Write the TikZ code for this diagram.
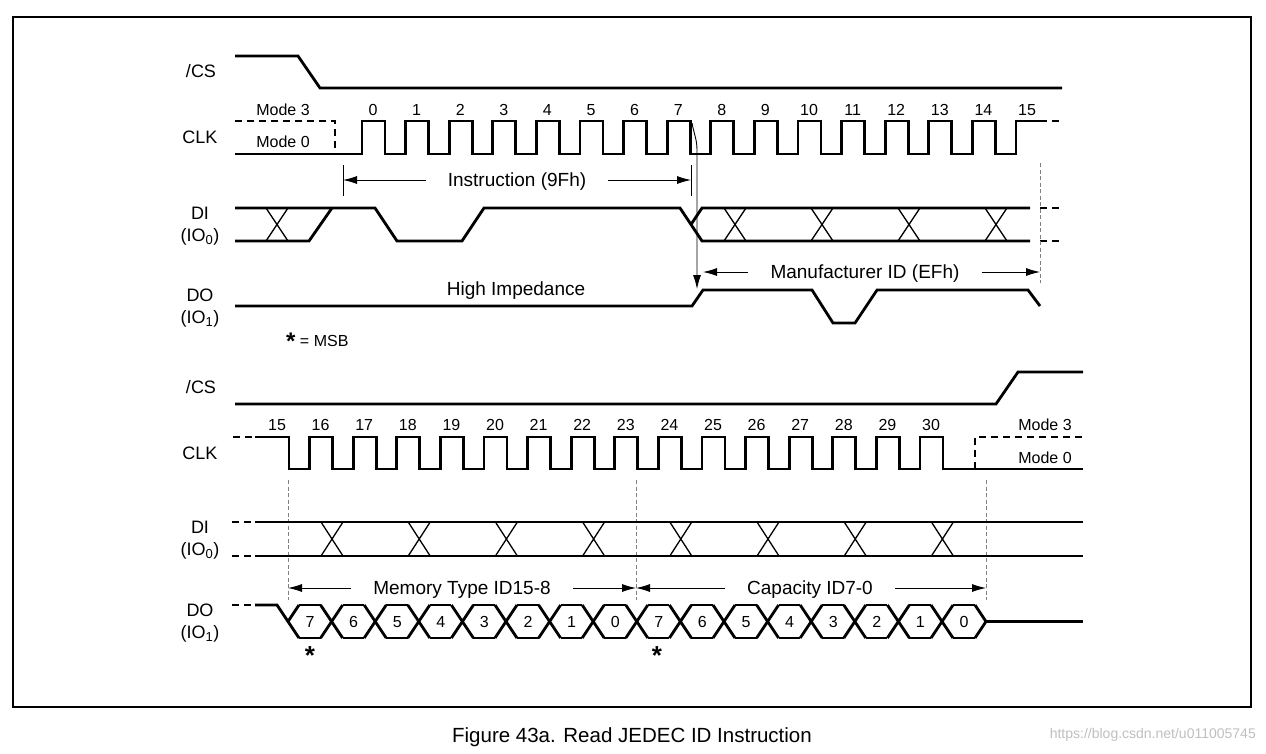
\documentclass[tikz,border=0pt]{standalone}
\usepackage{fontspec}
\setmainfont{Liberation Sans}
\usetikzlibrary{arrows.meta}
\usetikzlibrary{positioning}

\tikzset{
  sig/.style={line width=2.8pt,line join=miter},
  xing/.style={line width=1.3pt},
  mode/.style={sig,dash pattern=on 7pt off 5pt},
  guide/.style={gray,line width=0.9pt,dash pattern=on 4pt off 2.5pt},
  dim/.style={line width=0.9pt,-{Latex[length=14pt,width=8pt]}},
  tick/.style={line width=0.9pt},
  lbl/.style={font=\fontsize{18}{20}\selectfont,align=center,inner sep=0pt},
  num/.style={font=\fontsize{16}{18}\selectfont,inner sep=0pt},
  txt/.style={font=\fontsize{19}{21}\selectfont,inner sep=0pt,inner xsep=22pt},
}
\newcommand{\iosub}[1]{(IO\textsubscript{\fontsize{13}{13}\selectfont #1})}

\begin{document}
\begin{tikzpicture}[x=1pt,y=-1pt]
  \useasboundingbox (0,0) rectangle (1266,753);
  \draw[line width=1.5pt] (13,17) rectangle (1251,707);

  % signal names
  \node[lbl] (cs1) at (201,71) {/CS};
  \node[lbl] (clk1) at (200,137) {CLK};
  \node[lbl] (di1) at (200,226) {DI\\[2pt]\iosub{0}};
  \node[lbl] (do1) at (200,308) {DO\\[2pt]\iosub{1}};
  \node[lbl] (cs2) at (201,387) {/CS};
  \node[lbl] (clk2) at (200,453) {CLK};
  \node[lbl] (di2) at (200,540) {DI\\[2pt]\iosub{0}};
  \node[lbl] (do2) at (200,623) {DO\\[2pt]\iosub{1}};

  %%% upper half
  \draw[sig] (235,56) -- (298,56) -- (320,88) -- (1062,88);

  \node[num] (m3a) at (283,110) {Mode 3};
  \node[num] (m0a) at (283,142) {Mode 0};
  \draw[mode] (235,121) -- (335,121) -- (335,154);
  \draw[sig] (235,154) foreach \k in {0,...,14} {
      -- ({362+43.6*\k},154) -- ({362+43.6*\k},121)
      -- ({385+43.6*\k},121) -- ({385+43.6*\k},154) }
    -- (1016,154) -- (1016,121) -- (1040,121);
  \draw[mode] (1040,121) -- (1062,121);
  \foreach \k in {0,...,15}
    \node[num] (ca\k) at ({373+43.6*\k},110) {\k};

  % instruction
  \coordinate (ia) at (343,180);
  \coordinate (ib) at (691,180);
  \draw[tick] (343,165) -- (343,196) (691,165) -- (691,196);
  \node[txt] (ins) at (517,182) {Instruction (9Fh)};
  \draw[dim] (ins.west |- ia) -- (ia);
  \draw[dim] (ins.east |- ib) -- (ib);

  % DI
  \draw[sig] (235,208) -- (375,208) -- (397,241) -- (462,241) -- (484,208)
    -- (680,208) -- (702,241) -- (1030,241);
  \draw[sig] (235,241) -- (309,241) -- (332,208);
  \draw[sig] (691,224.5) -- (702,208) -- (1030,208);
  \foreach \c in {277,735,822,909,996}
    \draw[xing] (\c-11,208) -- (\c+11,241) (\c-11,241) -- (\c+11,208);
  \draw[mode] (1040,208) -- (1062,208) (1040,241) -- (1062,241);
  \draw[guide] (1040,163) -- (1040,283);

  % DO
  \draw[sig] (235,306) -- (692,306) -- (703,290) -- (812,290) -- (833,323)
    -- (855,323) -- (877,290) -- (1028,290) -- (1040,306);
  \node[txt] (hiz) at (516,291) {High Impedance};
  \coordinate (f7) at (692,123);
  \coordinate (dov) at (697,289);
  \draw[dim] (f7) to[out=-80,in=90] (697,150) -- (dov);

  \coordinate (ma) at (703,272);
  \coordinate (mb) at (1040,272);
  \node[txt] (man) at (865,274) {Manufacturer ID (EFh)};
  \draw[dim] (man.west |- ma) -- (ma);
  \draw[dim] (man.east |- mb) -- (mb);

  \node[num,anchor=west] (msb) at (286,341) {\raisebox{-3pt}{\fontsize{24}{24}\selectfont\textbf{*}} = MSB};

  %%% lower half
  \draw[sig] (235,404) -- (996,404) -- (1018,372) -- (1083,372);

  \draw[mode] (233,437) -- (255,437);
  \draw[sig] (255,437) -- (289,437) -- (289,469) foreach \j in {1,...,15} {
      -- ({266+43.6*\j},469) -- ({266+43.6*\j},437)
      -- ({289+43.6*\j},437) -- ({289+43.6*\j},469) }
    -- (1083,469);
  \draw[mode] (975,469) -- (975,437) -- (1083,437);
  \node[num] (m3b) at (1045,425) {Mode 3};
  \node[num] (m0b) at (1045,458) {Mode 0};
  \foreach \k in {15,...,30}
    \node[num] (cb\k) at ({277+43.6*(\k-15)},425) {\k};

  \draw[guide] (288,480) -- (288,600);
  \draw[guide] (636,480) -- (636,600);
  \draw[guide] (986,480) -- (986,600);

  % DI
  \draw[mode] (232,522) -- (255,522) (232,556) -- (255,556);
  \draw[sig] (255,522) -- (1083,522) (255,556) -- (1083,556);
  \foreach \j in {0,...,7}
    \draw[xing] ({332+87.2*\j-11},522) -- ({332+87.2*\j+11},556)
                ({332+87.2*\j-11},556) -- ({332+87.2*\j+11},522);

  % byte ranges
  \coordinate (ya) at (288,588);
  \coordinate (yb) at (636,588);
  \coordinate (yc) at (986,588);
  \node[txt] (mem) at (462,590) {Memory Type ID15-8};
  \node[txt] (cap) at (810,590) {Capacity ID7-0};
  \draw[dim] (mem.west |- ya) -- (ya);
  \draw[dim] (mem.east |- yb) -- (yb);
  \draw[dim] (cap.west |- yb) -- (yb);
  \draw[dim] (cap.east |- yc) -- (yc);

  % DO
  \draw[mode] (232,605) -- (255,605);
  \draw[sig] (255,605) -- (277,605) -- (299,638);
  \draw[sig] (288,621.5) -- (299,605);
  \foreach \m in {1,...,16} {
    \draw[sig] ({288+43.6*(\m-1)+11},605) -- ({288+43.6*\m-11},605)
               ({288+43.6*(\m-1)+11},638) -- ({288+43.6*\m-11},638);
  }
  \foreach \m in {1,...,15}
    \draw[sig] ({288+43.6*\m-11},605) -- ({288+43.6*\m+11},638)
               ({288+43.6*\m-11},638) -- ({288+43.6*\m+11},605);
  \draw[sig] (975,605) -- (986,621.5) -- (975,638);
  \draw[sig] (986,621.5) -- (1083,621.5);
  \foreach \b [count=\m from 0] in {7,6,5,4,3,2,1,0,7,6,5,4,3,2,1,0}
    \node[num] (bit\m) at ({310+43.6*\m},622) {\b};
  \node[inner sep=0pt,font=\fontsize{26}{26}\selectfont\bfseries] (ast1) at (310,656) {*};
  \node[inner sep=0pt,font=\fontsize{26}{26}\selectfont\bfseries] (ast2) at (657,656) {*};

  % caption
  \node[inner sep=0pt,font=\fontsize{20.5}{22}\selectfont] (cap43) at (632,737) {Figure 43a. Read JEDEC ID Instruction};
  \node[inner sep=0pt,anchor=east,text=black!25,font=\fontsize{14}{16}\selectfont] (wm) at (1256,735) {https://blog.csdn.net/u011005745};
\end{tikzpicture}
\end{document}
